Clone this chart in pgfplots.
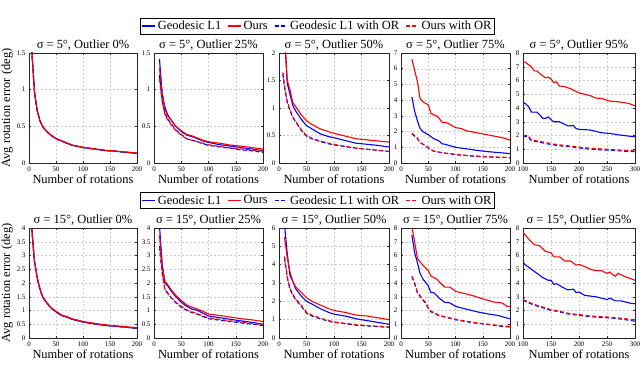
\documentclass[border=0pt]{standalone}
\usepackage{fontspec}
\setmainfont{Liberation Serif}
\usepackage{pgfplots}
\pgfplotsset{compat=1.18}

\pgfplotsset{
  legend image code/.code={\draw[#1, line width=1.4bp] (0bp,0bp) -- (13bp,0bp);},
  sub/.style={
    scale only axis, height=110bp,
    anchor=south west,
    axis line style={black!85, line width=0.8bp},
    tick align=inside, major tick length=2bp,
    tick style={black!85, line width=0.5bp},
    grid=major,
    major grid style={gray!40, dash pattern=on 2bp off 2bp, line width=0.4bp},
    tick label style={font=\fontsize{7}{8}\selectfont},
    /pgf/number format/assume math mode=true,
    label style={font=\fontsize{12.5}{14}\selectfont},
    title style={font=\fontsize{12.5}{14}\selectfont, yshift=-7bp},
    xlabel={Number of rotations},
    xlabel style={yshift=3bp},
    ylabel shift=-3bp,
    xmin=0, xmax=200, xtick={0,50,100,150,200},
    clip=true,
  },
  wide/.style={xmin=100, xmax=300, xtick={100,150,200,250,300}},
  l1/.style={color=blue, line width=1.1bp, mark=none},
  ours/.style={color=red, line width=1.1bp, mark=none},
  l1or/.style={color=blue, line width=1.1bp, mark=none, dash pattern=on 4bp off 2.5bp},
  oursor/.style={color=red, line width=1.1bp, mark=none, dash pattern=on 4bp off 2.5bp},
  leg/.style 2 args={
    legend columns=4,
    legend style={at={(#1,#2)}, anchor=center, draw=black, line width=0.9bp,
      font=\fontsize{12.5}{14}\selectfont, inner sep=1bp,
      /tikz/every even column/.append style={column sep=4bp}},
  },
}

\begin{document}
\begin{tikzpicture}
\path[use as bounding box] (0bp,0bp) rectangle (640bp,366bp);

% ---------------- row 1 : sigma = 5 deg ----------------
\begin{axis}[sub, at={(29bp,203bp)}, width=108bp,
  title={σ = 5°, Outlier 0\%},
  ylabel={Avg rotation error (deg)},
  ymin=0, ymax=1.5, ytick={0,0.5,1,1.5}]
\addplot[l1] coordinates {(5,1.55)(10,0.98)(15,0.72)(20,0.58)(25,0.5)(30,0.45)(40,0.38)(50,0.33)(60,0.3)(70,0.27)(80,0.24)(90,0.225)(100,0.21)(120,0.19)(140,0.17)(160,0.16)(180,0.145)(200,0.13)};
\addplot[ours] coordinates {(5,1.56)(10,0.99)(15,0.73)(20,0.585)(25,0.505)(30,0.455)(40,0.385)(50,0.335)(60,0.305)(70,0.275)(80,0.245)(90,0.23)(100,0.215)(120,0.195)(140,0.175)(160,0.163)(180,0.15)(200,0.135)};
\addplot[l1or] coordinates {(5,1.55)(10,0.97)(15,0.72)(20,0.58)(25,0.5)(30,0.445)(40,0.38)(50,0.33)(60,0.3)(70,0.27)(80,0.24)(90,0.225)(100,0.21)(120,0.19)(140,0.17)(160,0.16)(180,0.145)(200,0.13)};
\addplot[oursor] coordinates {(5,1.55)(10,0.98)(15,0.72)(20,0.58)(25,0.5)(30,0.45)(40,0.38)(50,0.33)(60,0.3)(70,0.27)(80,0.245)(90,0.228)(100,0.212)(120,0.192)(140,0.172)(160,0.162)(180,0.148)(200,0.132)};
\end{axis}

\begin{axis}[sub, at={(154bp,203bp)}, width=109bp,
  title={σ = 5°, Outlier 25\%},
  ymin=0, ymax=1.5, ytick={0,0.5,1,1.5}]
\addplot[l1] coordinates {(10,1.42)(15,0.95)(20,0.76)(25,0.66)(30,0.6)(40,0.5)(50,0.43)(60,0.38)(70,0.36)(80,0.33)(90,0.3)(100,0.28)(120,0.25)(140,0.23)(160,0.21)(180,0.19)(200,0.17)};
\addplot[ours] coordinates {(10,1.3)(15,0.93)(20,0.73)(25,0.64)(30,0.6)(40,0.5)(50,0.44)(60,0.39)(70,0.37)(80,0.34)(90,0.31)(100,0.29)(120,0.27)(140,0.245)(160,0.23)(180,0.21)(200,0.19)};
\addplot[l1or] coordinates {(10,1.2)(15,0.85)(20,0.67)(25,0.6)(30,0.55)(40,0.45)(50,0.39)(60,0.33)(70,0.31)(80,0.29)(90,0.26)(100,0.24)(120,0.22)(140,0.2)(160,0.18)(180,0.165)(200,0.145)};
\addplot[oursor] coordinates {(10,1.15)(15,0.84)(20,0.66)(25,0.59)(30,0.54)(40,0.44)(50,0.38)(60,0.33)(70,0.31)(80,0.29)(90,0.27)(100,0.25)(120,0.225)(140,0.205)(160,0.19)(180,0.175)(200,0.16)};
\end{axis}

\begin{axis}[sub, at={(279bp,203bp)}, width=110bp, leg={0.35}{1.245},
  title={σ = 5°, Outlier 50\%},
  ymin=0, ymax=2, ytick={0,0.5,1,1.5,2}]
\addplot[l1] coordinates {(10,2.3)(15,1.45)(20,1.25)(25,1.05)(30,0.95)(40,0.8)(50,0.68)(60,0.62)(75,0.53)(90,0.48)(100,0.46)(120,0.41)(140,0.36)(160,0.34)(180,0.32)(200,0.29)};
\addplot[ours] coordinates {(10,2.4)(15,1.5)(20,1.33)(25,1.1)(30,1.03)(40,0.88)(50,0.77)(60,0.7)(75,0.62)(90,0.57)(100,0.54)(120,0.49)(140,0.44)(160,0.42)(180,0.4)(200,0.38)};
\addplot[l1or] coordinates {(7,1.62)(10,1.38)(15,1.1)(20,0.95)(25,0.83)(30,0.75)(40,0.6)(50,0.49)(60,0.44)(75,0.39)(90,0.35)(100,0.33)(120,0.3)(140,0.27)(160,0.25)(180,0.23)(200,0.21)};
\addplot[oursor] coordinates {(7,1.65)(10,1.4)(15,1.12)(20,0.97)(25,0.84)(30,0.76)(40,0.61)(50,0.5)(60,0.45)(75,0.4)(90,0.36)(100,0.34)(120,0.3)(140,0.27)(160,0.25)(180,0.23)(200,0.21)};
\legend{Geodesic L1, Ours, Geodesic L1 with OR, Ours with OR}
\end{axis}

\begin{axis}[sub, at={(401bp,203bp)}, width=109bp,
  title={σ = 5°, Outlier 75\%},
  ymin=0, ymax=7, ytick={0,1,2,3,4,5,6,7}]
\addplot[l1] coordinates {(20,4.2)(25,3.3)(30,2.7)(35,2.2)(40,2.0)(50,1.8)(60,1.55)(70,1.4)(75,1.22)(80,1.2)(90,1.1)(100,1.0)(120,0.9)(140,0.8)(160,0.72)(180,0.66)(200,0.6)};
\addplot[ours] coordinates {(20,6.6)(25,5.9)(30,5.2)(35,4.1)(40,3.9)(50,3.7)(55,3.15)(65,3.0)(70,2.85)(75,2.6)(85,2.55)(95,2.35)(100,2.25)(110,2.2)(120,2.05)(135,1.95)(150,1.85)(165,1.75)(180,1.65)(190,1.58)(200,1.45)};
\addplot[l1or] coordinates {(20,1.85)(30,1.55)(35,1.3)(45,1.1)(50,0.95)(60,0.75)(75,0.65)(100,0.53)(130,0.44)(160,0.38)(200,0.33)};
\addplot[oursor] coordinates {(20,1.9)(30,1.6)(35,1.3)(45,1.1)(50,0.95)(60,0.76)(75,0.66)(100,0.55)(130,0.46)(160,0.4)(200,0.35)};
\end{axis}

\begin{axis}[sub, wide, at={(523bp,203bp)}, width=112bp,
  title={σ = 5°, Outlier 95\%},
  ymin=0, ymax=8, ytick={0,1,2,3,4,5,6,7,8}]
\addplot[l1] coordinates {(100,4.4)(105,4.3)(110,4.1)(115,3.7)(125,3.7)(130,3.5)(135,3.25)(140,3.25)(145,3.35)(150,3.15)(155,3.0)(165,3.0)(170,2.9)(180,2.7)(190,2.72)(195,2.5)(200,2.45)(220,2.4)(230,2.3)(240,2.2)(255,2.15)(270,2.05)(290,1.95)(300,1.9)};
\addplot[ours] coordinates {(100,7.4)(105,7.3)(115,7.0)(120,6.7)(125,6.7)(130,6.5)(140,6.2)(145,6.25)(150,6.1)(155,5.85)(160,5.9)(165,5.6)(175,5.55)(185,5.4)(190,5.3)(200,5.1)(210,5.0)(220,4.9)(230,4.72)(240,4.7)(255,4.5)(270,4.45)(280,4.4)(290,4.32)(300,4.15)};
\addplot[l1or] coordinates {(100,1.9)(108,1.95)(115,1.62)(125,1.55)(140,1.42)(150,1.35)(165,1.25)(180,1.2)(200,1.1)(220,1.0)(240,0.95)(260,0.92)(280,0.86)(300,0.82)};
\addplot[oursor] coordinates {(100,1.95)(108,2.02)(115,1.7)(125,1.6)(140,1.5)(150,1.4)(165,1.32)(180,1.25)(200,1.15)(220,1.08)(240,1.02)(260,0.97)(280,0.92)(300,0.88)};
\end{axis}

% ---------------- row 2 : sigma = 15 deg ----------------
\begin{axis}[sub, at={(29bp,28bp)}, width=108bp,
  title={σ = 15°, Outlier 0\%},
  ylabel={Avg rotation error (deg)},
  ymin=0, ymax=4, ytick={0,0.5,1,1.5,2,2.5,3,3.5,4}]
\addplot[l1] coordinates {(5,4.05)(10,2.8)(15,2.2)(20,1.8)(25,1.5)(30,1.35)(40,1.1)(50,0.95)(60,0.82)(70,0.76)(80,0.68)(90,0.63)(100,0.58)(125,0.5)(150,0.44)(175,0.4)(200,0.35)};
\addplot[ours] coordinates {(5,4.05)(10,2.82)(15,2.22)(20,1.82)(25,1.52)(30,1.37)(40,1.12)(50,0.97)(60,0.84)(70,0.78)(80,0.7)(90,0.65)(100,0.6)(125,0.52)(150,0.46)(175,0.42)(200,0.37)};
\addplot[l1or] coordinates {(5,4.0)(10,2.78)(15,2.18)(20,1.78)(25,1.5)(30,1.34)(40,1.1)(50,0.95)(60,0.82)(70,0.76)(80,0.68)(90,0.63)(100,0.58)(125,0.5)(150,0.44)(175,0.4)(200,0.35)};
\addplot[oursor] coordinates {(5,4.0)(10,2.8)(15,2.2)(20,1.8)(25,1.51)(30,1.35)(40,1.11)(50,0.96)(60,0.83)(70,0.77)(80,0.69)(90,0.64)(100,0.59)(125,0.51)(150,0.45)(175,0.41)(200,0.36)};
\end{axis}

\begin{axis}[sub, at={(154bp,28bp)}, width=109bp,
  title={σ = 15°, Outlier 25\%},
  ymin=0, ymax=4, ytick={0,0.5,1,1.5,2,2.5,3,3.5,4}]
\addplot[l1] coordinates {(10,4.1)(15,2.7)(20,2.0)(25,1.9)(30,1.75)(40,1.5)(50,1.3)(60,1.15)(70,1.05)(80,1.0)(90,0.9)(100,0.8)(120,0.74)(140,0.68)(160,0.62)(180,0.57)(200,0.5)};
\addplot[ours] coordinates {(10,3.75)(15,2.6)(20,2.05)(25,1.95)(30,1.8)(40,1.55)(50,1.37)(60,1.2)(70,1.12)(80,1.05)(90,0.97)(100,0.87)(120,0.82)(140,0.76)(160,0.7)(180,0.66)(200,0.6)};
\addplot[l1or] coordinates {(10,3.35)(15,2.4)(20,1.75)(25,1.65)(30,1.5)(40,1.28)(50,1.12)(60,1.0)(70,0.92)(80,0.86)(90,0.78)(100,0.7)(120,0.65)(140,0.6)(160,0.55)(180,0.5)(200,0.45)};
\addplot[oursor] coordinates {(10,3.3)(15,2.35)(20,1.78)(25,1.62)(30,1.5)(40,1.3)(50,1.15)(60,1.02)(70,0.95)(80,0.88)(90,0.8)(100,0.73)(120,0.68)(140,0.62)(160,0.58)(180,0.53)(200,0.48)};
\end{axis}

\begin{axis}[sub, at={(279bp,28bp)}, width=110bp, leg={0.35}{1.25},
  title={σ = 15°, Outlier 50\%},
  ymin=0, ymax=6, ytick={0,1,2,3,4,5,6}]
\addplot[l1] coordinates {(10,6.2)(15,4.6)(20,3.4)(25,3.1)(30,2.7)(40,2.3)(50,2.0)(60,1.85)(75,1.6)(90,1.4)(100,1.3)(120,1.2)(140,1.05)(160,0.95)(180,0.85)(200,0.75)};
\addplot[ours] coordinates {(10,5.5)(15,4.4)(20,3.6)(25,3.1)(30,2.8)(40,2.5)(50,2.2)(60,2.0)(75,1.8)(90,1.6)(100,1.5)(120,1.4)(140,1.25)(160,1.2)(180,1.1)(200,1.0)};
\addplot[l1or] coordinates {(10,4.35)(15,3.3)(20,2.65)(25,2.35)(30,2.1)(40,1.75)(50,1.35)(60,1.2)(75,1.05)(90,0.92)(100,0.85)(120,0.78)(140,0.7)(160,0.66)(180,0.62)(200,0.58)};
\addplot[oursor] coordinates {(10,4.45)(15,3.35)(20,2.7)(25,2.4)(30,2.15)(40,1.8)(50,1.4)(60,1.25)(75,1.08)(90,0.95)(100,0.88)(120,0.8)(140,0.73)(160,0.68)(180,0.64)(200,0.6)};
\legend{Geodesic L1, Ours, Geodesic L1 with OR, Ours with OR}
\end{axis}

\begin{axis}[sub, at={(401bp,28bp)}, width=109bp,
  title={σ = 15°, Outlier 75\%},
  ymin=0, ymax=8, ytick={0,1,2,3,4,5,6,7,8}]
\addplot[l1] coordinates {(20,7.5)(25,6.2)(30,5.5)(35,4.7)(40,4.3)(50,3.8)(55,3.3)(60,3.3)(70,2.9)(80,2.6)(90,2.55)(100,2.3)(120,2.1)(140,1.9)(160,1.75)(180,1.62)(190,1.5)(200,1.4)};
\addplot[ours] coordinates {(20,8.1)(25,7.0)(30,5.8)(40,5.3)(50,4.9)(55,4.5)(65,4.3)(75,3.9)(80,3.7)(90,3.7)(100,3.4)(110,3.3)(130,3.1)(150,2.85)(170,2.62)(185,2.55)(195,2.3)(200,2.3)};
\addplot[l1or] coordinates {(20,4.45)(25,3.95)(30,3.3)(40,2.75)(45,2.55)(50,2.15)(55,1.9)(70,1.62)(85,1.48)(100,1.33)(130,1.12)(160,0.98)(190,0.82)(200,0.8)};
\addplot[oursor] coordinates {(20,4.5)(25,4.0)(30,3.35)(40,2.8)(45,2.6)(50,2.2)(55,1.95)(70,1.65)(85,1.5)(100,1.36)(130,1.15)(160,1.0)(190,0.86)(200,0.85)};
\end{axis}

\begin{axis}[sub, wide, at={(523bp,28bp)}, width=112bp,
  title={σ = 15°, Outlier 95\%},
  ymin=0, ymax=8, ytick={0,1,2,3,4,5,6,7,8}]
\addplot[l1] coordinates {(100,5.5)(105,5.3)(115,5.0)(125,4.7)(135,4.4)(145,4.2)(150,4.2)(155,3.9)(160,3.95)(170,3.7)(180,3.5)(190,3.55)(195,3.3)(200,3.35)(210,3.1)(220,3.05)(230,3.0)(240,2.9)(250,2.8)(255,2.9)(265,2.7)(275,2.7)(285,2.6)(295,2.5)(300,2.5)};
\addplot[ours] coordinates {(100,7.7)(110,7.2)(120,6.8)(130,6.7)(135,6.5)(140,6.3)(150,6.2)(155,5.9)(165,5.9)(175,5.6)(185,5.6)(195,5.3)(200,5.35)(210,5.2)(220,5.0)(230,4.9)(240,4.9)(250,4.7)(255,4.8)(260,4.6)(265,4.5)(270,4.7)(280,4.5)(290,4.35)(300,4.2)};
\addplot[l1or] coordinates {(100,2.75)(110,2.55)(120,2.4)(130,2.25)(140,2.15)(150,2.0)(160,1.95)(170,1.85)(180,1.75)(200,1.65)(220,1.55)(240,1.5)(260,1.45)(280,1.35)(300,1.22)};
\addplot[oursor] coordinates {(100,2.8)(110,2.6)(120,2.45)(130,2.3)(140,2.2)(150,2.05)(160,2.0)(170,1.9)(180,1.8)(200,1.7)(220,1.6)(240,1.55)(260,1.5)(280,1.42)(300,1.32)};
\end{axis}
\end{tikzpicture}
\end{document}
